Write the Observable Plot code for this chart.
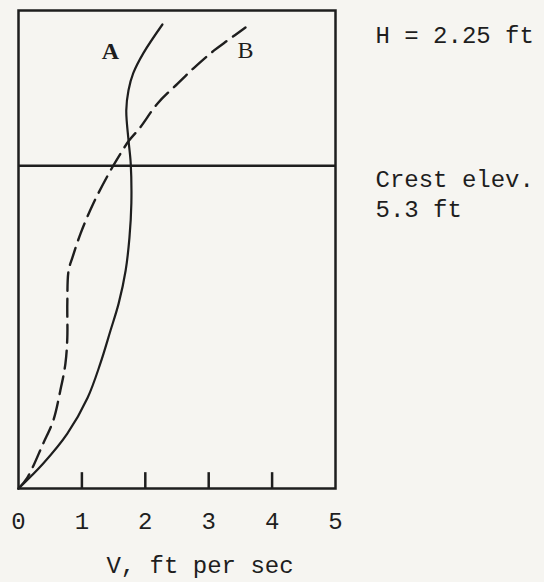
<!DOCTYPE html>
<html>
<head>
<meta charset="utf-8">
<script src="https://cdn.jsdelivr.net/npm/d3@7"></script>
<script src="https://cdn.jsdelivr.net/npm/@observablehq/plot@0.6"></script>
<style>
  html, body { margin: 0; padding: 0; background: #f6f5f1; }
  svg { display: block; }
</style>
</head>
<body>
<div id="chart"></div>
<script>
// Curve A (solid): velocity (ft/s) vs elevation (ft)
const velA  = [0, 0.39, 0.77, 1.09, 1.29, 1.45, 1.58, 1.69, 1.75, 1.78, 1.77, 1.735, 1.70, 1.735, 1.81, 1.97, 2.27];
const elevA = [0, 0.41, 0.90, 1.49, 2.05, 2.59, 3.04, 3.58, 4.12, 4.68, 5.34, 5.72, 6.21, 6.54, 6.82, 7.15, 7.62];
// Curve B (dashed)
const velB  = [0, 0.14, 0.39, 0.55, 0.66, 0.74, 0.77, 0.77, 0.79, 0.85, 0.98, 1.18, 1.45, 1.61, 1.74, 1.92, 2.19, 2.51, 2.76, 3.08, 3.30, 3.58];
const elevB = [0, 0.18, 0.74, 1.12, 1.61, 2.05, 2.48, 3.04, 3.58, 3.79, 4.19, 4.68, 5.22, 5.50, 5.71, 5.93, 6.32, 6.65, 6.90, 7.19, 7.36, 7.57];
const seriesNames = ["A", "B"];
const xTickLabels = [0, 1, 2, 3, 4, 5];
const innerTicks = [1, 2, 3, 4];
const crestElev = 5.3;
const headH = 2.25;
const xLabel = "V, ft per sec";
const headText = "H = 2.25 ft";
const crestText = "Crest elev.\n5.3 ft";

const curveA = velA.map((v, i) => ({v, e: elevA[i], s: seriesNames[0]}));
const curveB = velB.map((v, i) => ({v, e: elevB[i], s: seriesNames[1]}));

const ink = "#1e1e1e";
const mono = "'Liberation Mono', 'DejaVu Sans Mono', monospace";

const chart = Plot.plot({
  width: 544,
  height: 582,
  marginLeft: 18,
  marginRight: 209,
  marginTop: 10,
  marginBottom: 94,
  x: {domain: [0, 5], axis: null},
  y: {domain: [0, 7.85], axis: null},
  style: {background: "transparent", fontFamily: mono, color: ink},
  marks: [
    Plot.frame({stroke: ink, strokeWidth: 2.5}),
    Plot.ruleY([crestElev], {stroke: ink, strokeWidth: 2.5}),
    Plot.ruleX(innerTicks, {x: d => d, y1: 0, y2: 0.26, stroke: ink, strokeWidth: 2.5}),
    Plot.line(curveA, {x: "v", y: "e", curve: "catmull-rom", stroke: ink, strokeWidth: 2.2}),
    Plot.line(curveB, {x: "v", y: "e", curve: "catmull-rom", stroke: ink, strokeWidth: 2.4, strokeDasharray: "18,8"}),
    // series labels near curve ends
    Plot.text(curveA, Plot.selectLast({x: "v", y: "e", text: "s", dx: -52, dy: 34, lineAnchor: "bottom",
      fontFamily: "'Liberation Serif', serif", fontWeight: "bold", fontSize: 24, fill: ink})),
    Plot.text(curveB, Plot.selectLast({x: "v", y: "e", text: "s", dx: 0, dy: 30, lineAnchor: "bottom",
      fontFamily: "'Liberation Serif', serif", fontSize: 24, fill: ink})),
    // tick labels
    Plot.text(xTickLabels, {x: d => d, frameAnchor: "bottom", text: d => String(d), dy: 40, lineAnchor: "bottom",
      fontSize: 24, fill: ink}),
    // axis label
    Plot.text([xLabel], {frameAnchor: "bottom", text: d => d, dx: 23, dy: 84, lineAnchor: "bottom",
      fontSize: 24, fill: ink}),
    // annotations
    Plot.text([crestElev + headH], {x: 5, y: d => d, text: [headText], textAnchor: "start", lineAnchor: "top",
      dx: 40, dy: -3, fontSize: 24, fill: ink}),
    Plot.text([crestElev], {x: 5, y: d => d, text: [crestText], textAnchor: "start", lineAnchor: "top",
      dx: 40, dy: 0, lineHeight: 1.25, fontSize: 24, fill: ink})
  ]
});
document.getElementById("chart").appendChild(chart);
</script>
</body>
</html>
